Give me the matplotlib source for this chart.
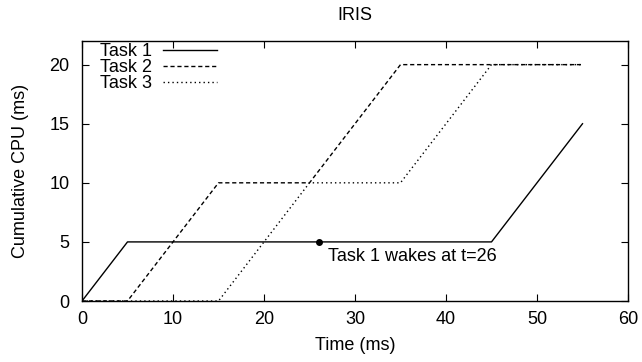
import matplotlib
matplotlib.use('Agg')
import matplotlib.pyplot as plt

plt.rcParams['font.family'] = ['Liberation Sans', 'DejaVu Sans']

# cumulative CPU time per task (ms)
t1_time = [0, 5, 45, 55]
t1_cpu = [0, 5, 5, 15]

t2_time = [0, 5, 15, 25, 35, 55]
t2_cpu = [0, 0, 10, 10, 20, 20]

t3_time = [0, 15, 25, 35, 45, 55]
t3_cpu = [0, 0, 10, 10, 20, 20]

wake_time = 26
wake_cpu = 5

xticks = [0, 10, 20, 30, 40, 50, 60]
yticks = [0, 5, 10, 15, 20]

fs = 13

fig = plt.figure(figsize=(6.42, 3.62), dpi=100)
ax = fig.add_axes([82 / 642, 1 - 301 / 362, (628 - 82) / 642, (301 - 41) / 362])

ax.plot(t1_time, t1_cpu, color='black', lw=1.0, label='Task 1')
ax.plot(t2_time, t2_cpu, color='black', lw=1.0, dashes=(3, 2), label='Task 2')
ax.plot(t3_time, t3_cpu, color='black', lw=1.0, dashes=(1, 2.2), label='Task 3')

ax.plot([wake_time], [wake_cpu], 'o', color='black', ms=4)
ax.annotate('Task 1 wakes at t=%d' % wake_time, xy=(wake_time, wake_cpu),
            xytext=(6.5, -4.5), textcoords='offset points',
            ha='left', va='top', fontsize=fs)

ax.set_xlim(0, 60)
ax.set_ylim(0, 22)
ax.set_xticks(xticks)
ax.set_yticks(yticks)
ax.tick_params(direction='in', top=True, right=True, length=5, labelsize=fs)
ax.tick_params(axis='y', pad=9)
ax.tick_params(axis='x', pad=7)
for s in ax.spines.values():
    s.set_linewidth(1.0)

ax.set_xlabel('Time (ms)', fontsize=fs, labelpad=7)
ax.set_ylabel('Cumulative CPU (ms)', fontsize=fs, labelpad=15)
fig.text(0.5 * (82 + 628) / 642, 1 - 15 / 362, 'IRIS', ha='center', va='center', fontsize=fs)

ax.legend(loc='upper left', frameon=False, markerfirst=False, fontsize=fs,
          handlelength=3.0, handletextpad=0.65, labelspacing=-0.05,
          borderaxespad=0.0, bbox_to_anchor=(0.019, 1.02))

fig.savefig('out.png', dpi=100)
